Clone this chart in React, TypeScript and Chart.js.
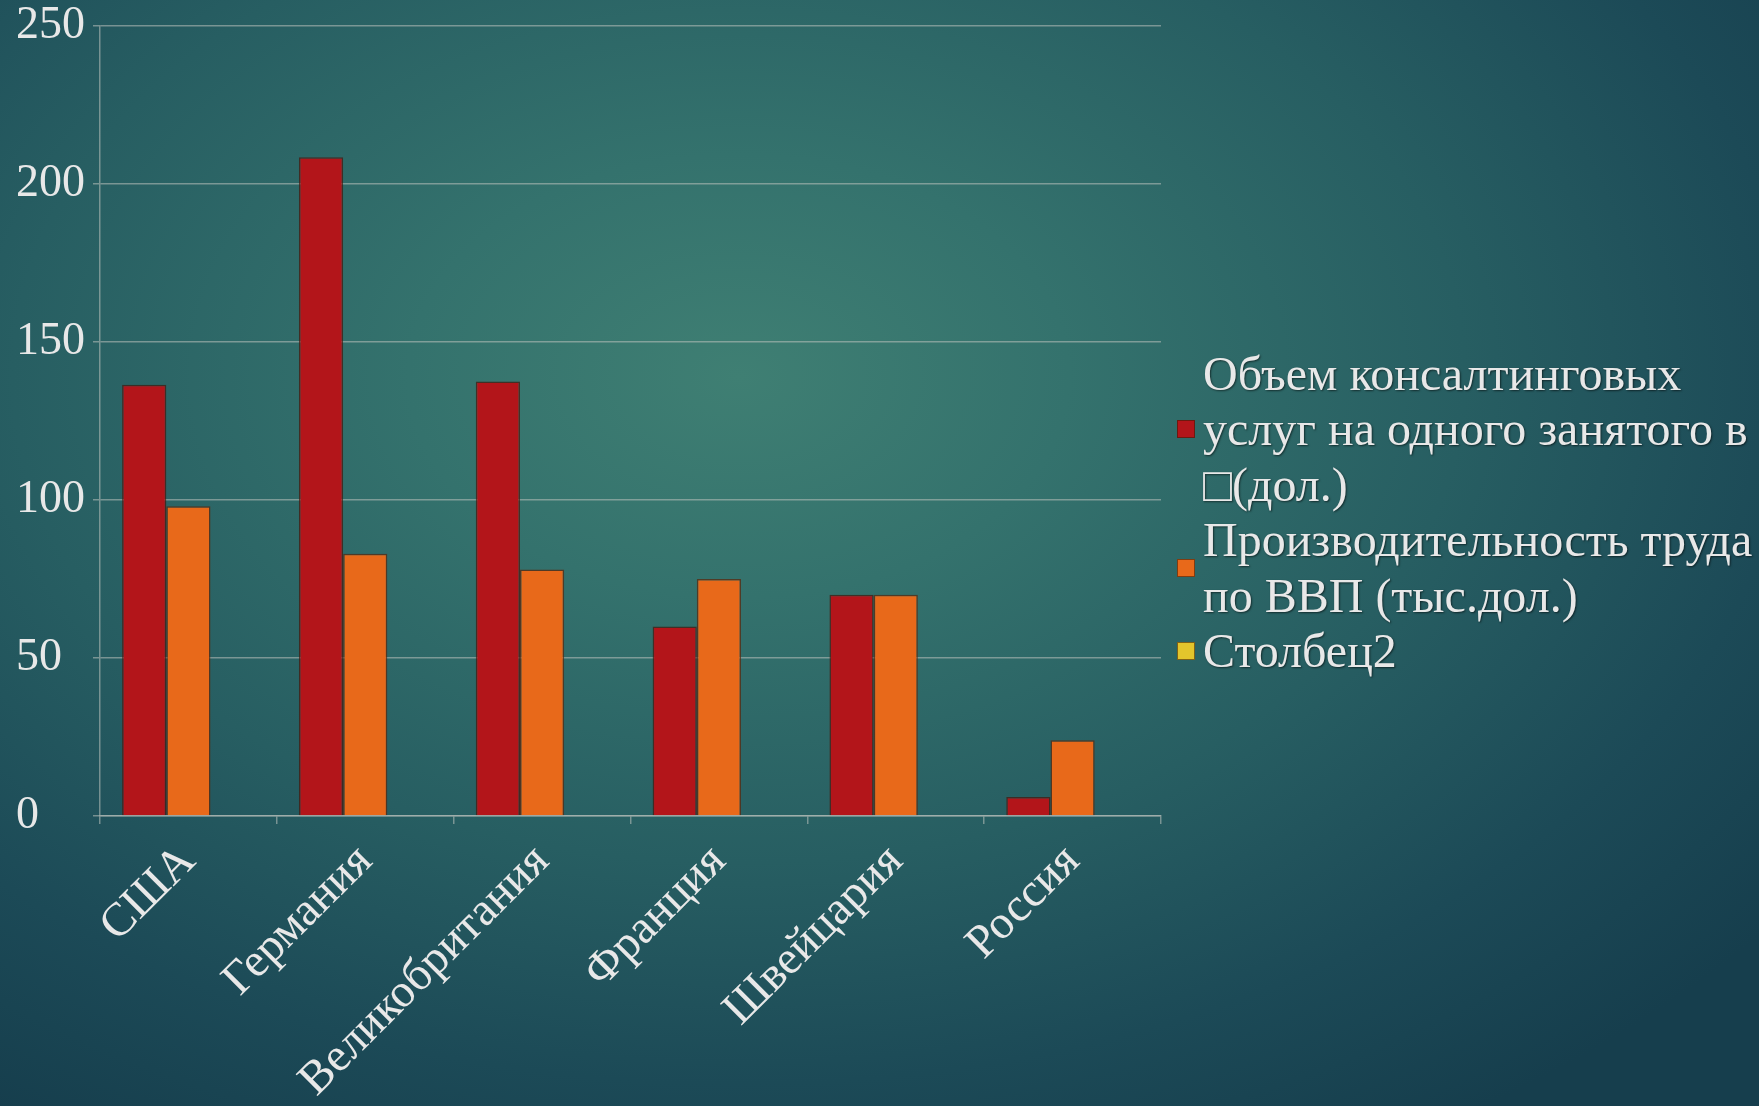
import React, { useEffect, useRef } from "react";
import { Chart, registerables } from "chart.js";

Chart.register(...registerables);

const categories = ["США", "Германия", "Великобритания", "Франция", "Швейцария", "Россия"];
const consultingVolume = [136.5, 208.5, 137.5, 60, 70, 6];
const laborProductivity = [98, 83, 78, 75, 70, 24];
const column2: (number | null)[] = [null, null, null, null, null, null];
const seriesNames = [
  ["Объем консалтинговых", "услуг на одного занятого в", "\u25A1(дол.)"],
  ["Производительность труда", "по ВВП (тыс.дол.)"],
  ["Столбец2"],
];
const seriesColors = ["#b3151a", "#e8691a", "#e3c52c"];
const yMin = 0;
const yMax = 250;
const yStep = 50;

const FONT = "'Liberation Serif', 'Times New Roman', serif";
const TEXT = "#e8e8e8";
const GRID = "rgba(190,195,190,0.55)";

export default function App() {
  const canvasRef = useRef<HTMLCanvasElement | null>(null);

  useEffect(() => {
    const canvas = canvasRef.current;
    if (!canvas) return;
    const chart = new Chart(canvas, {
      type: "bar",
      data: {
        labels: categories,
        datasets: [
          {
            label: seriesNames[0].join(" "),
            data: consultingVolume,
            backgroundColor: seriesColors[0],
            borderColor: "rgba(70,25,15,0.75)",
            borderWidth: 1.5,
          },
          {
            label: seriesNames[1].join(" "),
            data: laborProductivity,
            backgroundColor: seriesColors[1],
            borderColor: "rgba(90,40,15,0.75)",
            borderWidth: 1.5,
          },
          {
            label: seriesNames[2].join(" "),
            data: column2,
            backgroundColor: seriesColors[2],
            borderColor: "rgba(90,70,15,0.75)",
            borderWidth: 1.5,
          },
        ],
      },
      options: {
        responsive: false,
        animation: false,
        layout: { padding: { left: 16, top: 26, right: 598, bottom: 0 } },
        datasets: {
          bar: { categoryPercentage: 0.75, barPercentage: 1.0 },
        },
        plugins: {
          legend: { display: false },
          tooltip: { enabled: false },
        },
        scales: {
          x: {
            afterFit: (s: any) => {
              s.height = 290;
            },
            grid: {
              offset: true,
              drawOnChartArea: false,
              drawTicks: true,
              tickLength: 8,
              color: GRID,
              lineWidth: 1.5,
            },
            border: { display: true, color: GRID, width: 1.5 },
            ticks: {
              autoSkip: false,
              minRotation: 45,
              maxRotation: 45,
              padding: 10,
              color: TEXT,
              font: { family: FONT, size: 47 },
            },
          },
          y: {
            min: yMin,
            max: yMax,
            afterFit: (s: any) => {
              s.width = 84;
            },
            grid: {
              color: GRID,
              lineWidth: 1.5,
              drawTicks: true,
              tickLength: 7,
            },
            border: { display: true, color: GRID, width: 1.5 },
            ticks: {
              stepSize: yStep,
              crossAlign: "far",
              padding: 0,
              color: TEXT,
              font: { family: FONT, size: 46, lineHeight: 1.0 },
            },
          },
        },
      },
    });
    return () => chart.destroy();
  }, []);

  const lineH = 55.4;
  return (
    <div
      style={{
        position: "absolute",
        left: 0,
        top: 0,
        width: 1759,
        height: 1106,
        overflow: "hidden",
        background:
          "radial-gradient(ellipse 75% 80% at 42% 34%, #3f7f73 0%, #34726d 25%, #275e62 55%, #1c4a57 80%, #163e4d 100%)",
      }}
    >
      <canvas ref={canvasRef} width={1759} height={1106} style={{ position: "absolute", left: 0, top: 0 }} />
      <div
        style={{
          position: "absolute",
          left: 1177,
          top: 346,
          fontFamily: FONT,
          fontSize: 48,
          color: TEXT,
          textShadow: "1px 1px 2px rgba(0,0,0,0.55)",
          whiteSpace: "nowrap",
        }}
      >
        {seriesNames.map((lines, i) => (
          <div key={i} style={{ display: "flex", alignItems: "center" }}>
            <div
              style={{
                width: 16,
                height: 16,
                background: seriesColors[i],
                border: "1px solid rgba(60,30,10,0.6)",
                marginRight: 8,
                flex: "none",
              }}
            />
            <div style={{ lineHeight: lineH + "px" }}>
              {lines.map((t, j) => (
                <div key={j}>{t}</div>
              ))}
            </div>
          </div>
        ))}
      </div>
    </div>
  );
}
